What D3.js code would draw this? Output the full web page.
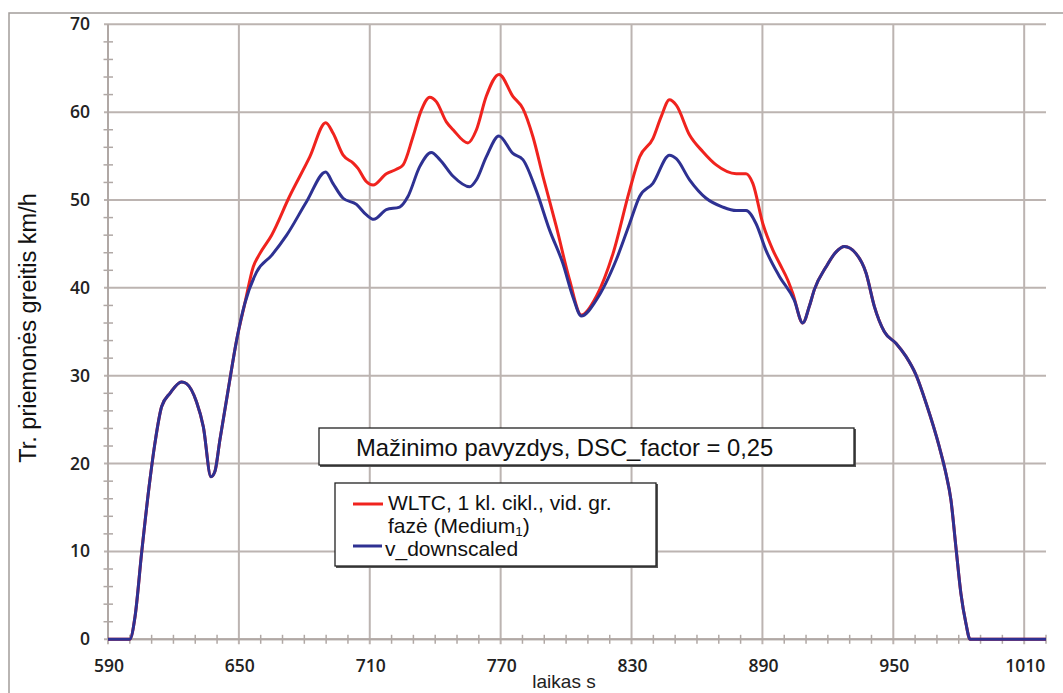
<!DOCTYPE html>
<html>
<head>
<meta charset="utf-8">
<script src="https://cdn.jsdelivr.net/npm/d3@7"></script>
<style>
    body { margin: 0; background: #fff; }
    svg { display: block; }
</style>
</head>
<body>
<div id="svg_wrapper"></div>
<script>
// shared part of both curves (before / after the downscaling window)
const commonStart = [
    [590, 0], [600, 0], [602.4, 2.6], [605.4, 9.8], [609.2, 18.1], [611.5, 22.3],
    [614.6, 26.5], [618.4, 28.0], [623.7, 29.3], [626, 29.1], [630.6, 27.0],
    [633.7, 24.2], [637.2, 18.5], [639, 19.1], [641.3, 22.7], [645.1, 28.4],
    [649, 34.1], [652.7, 38.2]
];

const commonEnd = [
    [908.5, 36.0], [911.5, 37.9], [913.8, 39.8], [919.2, 42.4], [923.8, 44.1],
    [927.6, 44.7], [932.9, 43.9], [937.5, 41.7], [941.3, 37.9], [945.9, 35.0],
    [951.2, 33.7], [955.8, 32.2], [960.4, 30.1], [965, 26.9], [971.1, 21.9],
    [974.1, 18.9], [976.4, 15.9], [978.7, 10.5], [981, 5.2], [983.3, 1.8],
    [985.2, 0], [1020, 0]
];

// WLTC class 1, medium phase
const wltcMid = [
    [656.6, 42.4], [659.6, 43.9], [665, 46.0], [673.2, 50.4], [682.5, 54.9],
    [689.8, 58.8], [693.2, 57.6], [697.8, 55.1], [702.4, 54.2], [704.6, 53.6],
    [708.4, 52.1], [711.5, 51.7], [717.6, 53.0], [722.2, 53.5], [725.3, 54.0],
    [729.8, 57.2], [733.6, 60.2], [737.5, 61.7], [740.5, 61.2], [745.1, 58.9],
    [748.2, 58.0], [755, 56.5], [758.9, 58.0], [763.4, 61.8], [769.3, 64.3],
    [775.6, 61.8], [780.2, 60.4], [784.8, 57.2], [789.4, 52.7], [795.5, 47.0],
    [801.6, 40.9], [807, 36.9], [813.8, 39.0], [821.5, 43.9], [829.1, 51.1],
    [833.7, 54.9], [839.8, 57.0], [843.6, 59.5], [847.4, 61.4], [850.5, 60.8],
    [856.6, 57.4], [862.7, 55.5], [868.8, 54.0], [878, 53.0], [882.5, 53.0],
    [885.6, 51.9], [890.2, 47.3], [894.8, 44.3], [897.8, 42.8], [901.6, 40.9],
    [903.9, 39.4]
];

// v_downscaled
const downscaledMid = [
    [658.1, 41.8], [665, 43.7], [671.9, 46.0], [681, 49.8], [689.8, 53.2],
    [693.1, 51.9], [697.8, 50.2], [703.9, 49.5], [708.5, 48.3], [711.8, 47.8],
    [717.6, 48.9], [723.7, 49.2], [727.5, 50.4], [732.9, 53.8], [738.2, 55.4],
    [742.1, 54.6], [748.2, 52.7], [755.8, 51.5], [758.9, 52.3], [763.4, 54.9],
    [769.2, 57.3], [775.6, 55.3], [780.2, 54.6], [786.3, 51.1], [792.4, 46.6],
    [798.5, 42.8], [803.1, 39.0], [807, 36.8], [813.8, 38.6], [823, 43.2],
    [829.1, 47.3], [833.7, 50.4], [839.8, 51.9], [847.4, 55.1], [850.5, 54.7],
    [856.6, 52.3], [864.2, 50.2], [871.8, 49.2], [878, 48.8], [882.5, 48.8],
    [887.1, 47.3], [891.6, 44.3], [897.8, 41.3], [904.6, 38.6]
];

const xMajorTicks = [590, 650, 710, 770, 830, 890, 950, 1010];
const yMajorTicks = [0, 10, 20, 30, 40, 50, 60, 70];

const titleText = 'Mažinimo pavyzdys, DSC_factor = 0,25';
const xLabel = 'laikas s';
const yLabel = 'Tr. priemonės greitis km/h';

const wltc = commonStart.concat(wltcMid, commonEnd);
const downscaled = commonStart.concat(downscaledMid, commonEnd);

const width = 1063, height = 693;
const gridColor = '#bcb4b1';
const axisColor = '#b0a8a5';

const svg = d3.select('#svg_wrapper')
    .append('svg')
    .attr('width', width)
    .attr('height', height);

const x = d3.scaleLinear().domain([590, 1020]).range([108, 1046]);
const y = d3.scaleLinear().domain([0, 70]).range([639.3, 24.3]);

// outer frame (right and bottom edges fall outside the picture)
svg.append('rect')
    .attr('x', 9)
    .attr('y', 13)
    .attr('width', 1070)
    .attr('height', 700)
    .attr('fill', 'none')
    .attr('stroke', '#a39d9b')
    .attr('stroke-width', 1.5);

// grid
svg.append('g')
    .selectAll('line')
    .data(xMajorTicks)
    .enter()
    .append('line')
    .attr('x1', d => x(d))
    .attr('x2', d => x(d))
    .attr('y1', y(70))
    .attr('y2', y(0) + 5)
    .attr('stroke', gridColor)
    .attr('stroke-width', 2);

svg.append('g')
    .selectAll('line')
    .data(yMajorTicks)
    .enter()
    .append('line')
    .attr('x1', x(590) - 4)
    .attr('x2', x(1020))
    .attr('y1', d => y(d))
    .attr('y2', d => y(d))
    .attr('stroke', gridColor)
    .attr('stroke-width', 2);

// minor ticks
const xMinor = d3.range(590, 1021, 10).filter(d => !xMajorTicks.includes(d));
const yMinor = d3.range(0, 71, 2).filter(d => d % 10 !== 0);

svg.append('g')
    .selectAll('line')
    .data(xMinor)
    .enter()
    .append('line')
    .attr('x1', d => x(d))
    .attr('x2', d => x(d))
    .attr('y1', y(0) - 4.5)
    .attr('y2', y(0) + 4.5)
    .attr('stroke', axisColor)
    .attr('stroke-width', 1.5);

svg.append('g')
    .selectAll('line')
    .data(yMinor)
    .enter()
    .append('line')
    .attr('x1', x(590) - 4.5)
    .attr('x2', x(590) + 5)
    .attr('y1', d => y(d))
    .attr('y2', d => y(d))
    .attr('stroke', axisColor)
    .attr('stroke-width', 1.5);

// axis lines
svg.append('line')
    .attr('x1', x(590)).attr('x2', x(590))
    .attr('y1', y(70)).attr('y2', y(0))
    .attr('stroke', axisColor)
    .attr('stroke-width', 2);

svg.append('line')
    .attr('x1', x(590)).attr('x2', x(1020))
    .attr('y1', y(0)).attr('y2', y(0))
    .attr('stroke', axisColor)
    .attr('stroke-width', 2);

// tick labels
svg.append('g')
    .selectAll('text')
    .data(yMajorTicks)
    .enter()
    .append('text')
    .attr('x', 90)
    .attr('y', d => y(d) + 6)
    .attr('text-anchor', 'end')
    .attr('font-family', 'Open Sans')
    .attr('font-weight', 600)
    .attr('font-size', 17.5)
    .attr('fill', '#222')
    .text(d => d);

svg.append('g')
    .selectAll('text')
    .data(xMajorTicks)
    .enter()
    .append('text')
    .attr('x', d => x(d) + 1)
    .attr('y', 672)
    .attr('text-anchor', 'middle')
    .attr('font-family', 'Open Sans')
    .attr('font-weight', 600)
    .attr('font-size', 17.5)
    .attr('fill', '#222')
    .text(d => d);

// axis titles
svg.append('text')
    .attr('x', 564)
    .attr('y', 688)
    .attr('text-anchor', 'middle')
    .attr('font-family', 'Liberation Sans')
    .attr('font-size', 19)
    .attr('fill', '#222')
    .text(xLabel);

svg.append('text')
    .attr('transform', 'translate(36,328) rotate(-90)')
    .attr('text-anchor', 'middle')
    .attr('font-family', 'Liberation Sans')
    .attr('font-size', 23.5)
    .attr('fill', '#111')
    .text(yLabel);

// curves
const line = d3.line()
    .x(d => x(d[0]))
    .y(d => y(d[1]))
    .curve(d3.curveMonotoneX);

svg.append('path')
    .datum(wltc)
    .attr('d', line)
    .attr('fill', 'none')
    .attr('stroke', '#f0231e')
    .attr('stroke-width', 3);

svg.append('path')
    .datum(downscaled)
    .attr('d', line)
    .attr('fill', 'none')
    .attr('stroke', '#2e3192')
    .attr('stroke-width', 3);

// title box
svg.append('rect')
    .attr('x', 320)
    .attr('y', 429)
    .attr('width', 536)
    .attr('height', 38)
    .attr('fill', '#555');

svg.append('rect')
    .attr('x', 319)
    .attr('y', 428)
    .attr('width', 535)
    .attr('height', 37)
    .attr('fill', '#fff')
    .attr('stroke', '#222')
    .attr('stroke-width', 1.3);

svg.append('text')
    .attr('x', 356)
    .attr('y', 456)
    .attr('font-family', 'Liberation Sans')
    .attr('font-size', 23.8)
    .attr('fill', '#111')
    .text(titleText);

// legend
const legend = svg.append('g');

legend.append('rect')
    .attr('x', 336)
    .attr('y', 484)
    .attr('width', 322)
    .attr('height', 84)
    .attr('fill', '#555');

legend.append('rect')
    .attr('x', 335)
    .attr('y', 483)
    .attr('width', 321)
    .attr('height', 83)
    .attr('fill', '#fff')
    .attr('stroke', '#222')
    .attr('stroke-width', 1.3);

legend.append('line')
    .attr('x1', 353).attr('x2', 383)
    .attr('y1', 504).attr('y2', 504)
    .attr('stroke', '#f0231e')
    .attr('stroke-width', 3);

legend.append('line')
    .attr('x1', 353).attr('x2', 382)
    .attr('y1', 546).attr('y2', 546)
    .attr('stroke', '#2e3192')
    .attr('stroke-width', 3);

const legendFont = 21;

legend.append('text')
    .attr('x', 388)
    .attr('y', 510)
    .attr('font-family', 'Liberation Sans')
    .attr('font-size', legendFont)
    .attr('fill', '#111')
    .text('WLTC, 1 kl. cikl., vid. gr.');

const second = legend.append('text')
    .attr('x', 388)
    .attr('y', 533)
    .attr('font-family', 'Liberation Sans')
    .attr('font-size', legendFont)
    .attr('fill', '#111');

second.append('tspan').text('fazė (Medium');
second.append('tspan')
    .attr('font-size', 13.5)
    .attr('dy', 3)
    .text('1');
second.append('tspan')
    .attr('dy', -3)
    .text(')');

legend.append('text')
    .attr('x', 385)
    .attr('y', 556)
    .attr('font-family', 'Liberation Sans')
    .attr('font-size', legendFont)
    .attr('fill', '#111')
    .text('v_downscaled');
</script>
</body>
</html>
